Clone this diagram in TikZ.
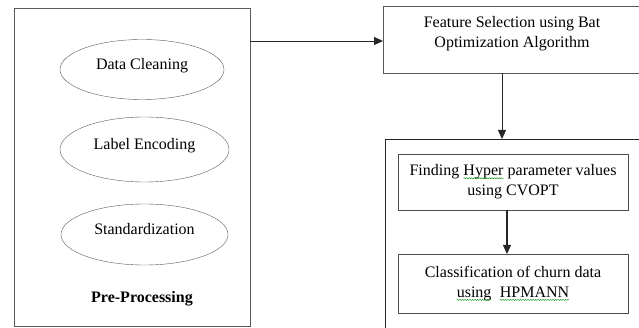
\documentclass[tikz,border=0pt]{standalone}
\usepackage{fontspec}
\setmainfont{Liberation Serif}
\usetikzlibrary{shapes.geometric,decorations.pathmorphing,arrows.meta}

\tikzset{
	stepell/.style={draw=black!65,ellipse,minimum width=164pt,minimum height=60pt,inner sep=0pt,text height=11pt,text depth=11pt},
	stepbox/.style={draw=black!70,thick,align=center,inner sep=0pt},
	flow/.style={-{Triangle[length=9pt,width=8pt]},thick,black!85},
	squig/.style={green!55!black,thin,decorate,decoration={snake,amplitude=0.6pt,segment length=2.5pt}}
}
% wavy underline as the word processor drew it
\newcommand{\wavy}[1]{\tikz[baseline=(w.base)]{\node[inner sep=0pt,outer sep=0pt,draw=none,minimum width=0pt,minimum height=0pt] (w) {#1};
	\draw[squig] ([yshift=-2.5pt]w.base west) -- ([yshift=-2.5pt]w.base east);}}

\begin{document}
\begin{tikzpicture}[x=1pt,y=-1pt,font=\fontsize{16}{20}\selectfont]
	\useasboundingbox (0,0) rectangle (639,328);
	% pre-processing block
	\draw[black!65,thick] (14,8) rectangle (250,326);
	\node[stepell] (clean) at (142,69.5) {Data Cleaning};
	\node[stepell,minimum width=169pt,minimum height=65pt] (enc) at (144.5,149.5) {Label Encoding};
	\node[stepell,minimum width=167pt,minimum height=61pt] (std) at (144.5,234.5) {Standardization};
	\node[font=\fontsize{16}{20}\selectfont\bfseries] (pre) at (142,299) {Pre-Processing};
	\coordinate (pre-out) at (250,41);

	% feature selection
	\draw[black!65,thick] (642,6) -- (383,6) -- (383,73) -- (642,73);
	\node[align=center] (fs) at (512,34) {Feature Selection using Bat\\Optimization Algorithm};
	\coordinate (fsw) at (383,41);
	\coordinate (fss) at (502,73);
	\draw[flow] (pre-out) -- (fsw);

	% model block
	\draw[black!85] (642,139) -- (385,139) -- (385,330);
	\coordinate (mn) at (502,139);
	\draw[flow] (fss) -- (mn);
	\node[stepbox,minimum width=230pt,minimum height=56pt] (hyp) at (513,182)
		{Finding \wavy{Hyper} parameter values\\using CVOPT};
	\node[stepbox,minimum width=230pt,minimum height=59pt] (cls) at (513,283.5)
		{Classification of churn data\\\wavy{using}\ \ \wavy{HPMANN}};
	\coordinate (hs) at (507,210);
	\coordinate (cn) at (507,254);
	\draw[flow,very thick] (hs) -- (cn);
\end{tikzpicture}
\end{document}
